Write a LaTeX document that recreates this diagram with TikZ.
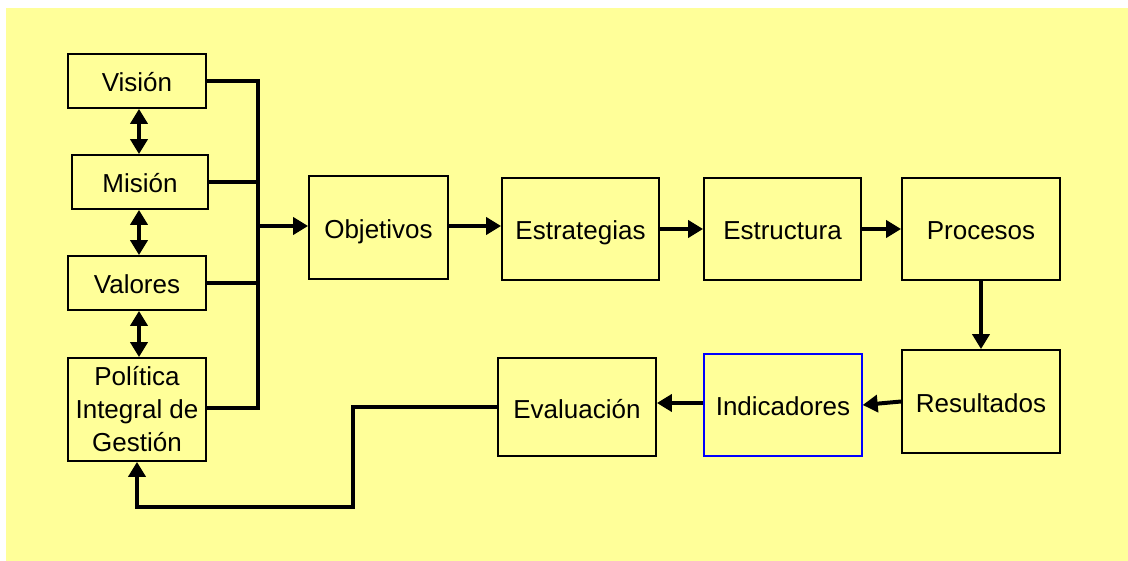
\documentclass[tikz,border=0pt]{standalone}
\usepackage{fontspec}
\setmainfont{Liberation Sans}
\usetikzlibrary{arrows.meta}
\definecolor{paper}{HTML}{FFFF99}
\definecolor{edgeblue}{HTML}{0000FF}
\tikzset{
  box/.style={draw=black, line width=1.8pt, fill=paper, inner sep=0pt,
    align=center, font=\fontsize{26}{33}\selectfont},
  oneline/.style={text height=27pt, text depth=5pt},
  conn/.style={line width=4pt, draw=black},
  tip/.style={-{Triangle[length=15pt,width=17pt]}},
  dbl/.style={{Triangle[length=15pt,width=17pt]}-{Triangle[length=15pt,width=17pt]}}
}
\begin{document}
\begin{tikzpicture}[x=1pt,y=-1pt]
\useasboundingbox (0,0) rectangle (1128,561);
\fill[paper] (6,8) rectangle (1128,561);

% left column
\node[box, oneline, minimum width=138pt, minimum height=54pt] (vis) at (137,81) {Visión};
\node[box, oneline, minimum width=136pt, minimum height=54pt] (mis) at (140,182) {Misión};
\node[box, oneline, minimum width=138pt, minimum height=54pt] (val) at (137,283) {Valores};
\node[box, minimum width=138pt, minimum height=103pt] (pol) at (137,409.5) {Política\\Integral de\\Gestión};

% upper row
\node[box, oneline, minimum width=139pt, minimum height=103pt] (obj) at (378.5,227.5) {Objetivos};
\node[box, oneline, minimum width=157pt, minimum height=102pt] (est) at (580.5,229) {Estrategias};
\node[box, oneline, minimum width=157pt, minimum height=102pt] (estr) at (782.5,229) {Estructura};
\node[box, oneline, minimum width=158pt, minimum height=102pt] (proc) at (981,229) {Procesos};

% lower row
\node[box, oneline, minimum width=158pt, minimum height=103pt] (res) at (981,401.5) {Resultados};
\node[box, oneline, draw=edgeblue, line width=1.4pt, minimum width=158pt, minimum height=102pt] (ind) at (783,405) {Indicadores};
\node[box, oneline, minimum width=158pt, minimum height=98pt] (eva) at (577,407) {Evaluación};

% bus joining the left column
\coordinate (busBot) at (258,408);
\coordinate (loop) at (353,507);

\draw[conn] (vis.east) -| (busBot) -- (busBot -| pol.east);
\draw[conn] (mis.east) -- (mis.east -| busBot);
\draw[conn] (val.east) -- (val.east -| busBot);
\draw[conn, tip] ([yshift=1.5pt]obj.west -| busBot) -- ([yshift=1.5pt]obj.west);

% links inside the left column
\draw[conn, dbl] ([xshift=2pt]vis.south) -- ([xshift=2pt]vis.south |- mis.north);
\draw[conn, dbl] ([xshift=2pt]val.north |- mis.south) -- ([xshift=2pt]val.north);
\draw[conn, dbl] ([xshift=2pt]val.south) -- ([xshift=2pt]pol.north);

% main chain
\draw[conn, tip] ([yshift=1.5pt]obj.east) -- ([yshift=1.5pt]obj.east -| est.west);
\draw[conn, tip] (est.east) -- (est.east -| estr.west);
\draw[conn, tip] (estr.east) -- (estr.east -| proc.west);
\draw[conn, tip] (proc.south) -- (res.north);
\draw[conn, tip] (res.west) -- (ind.east);
\draw[conn, tip] ([yshift=2pt]ind.west) -- ([yshift=2pt]ind.west -| eva.east);

% feedback loop
\draw[conn, tip] (eva.west) -| (loop) -| (pol.south);
\end{tikzpicture}
\end{document}
